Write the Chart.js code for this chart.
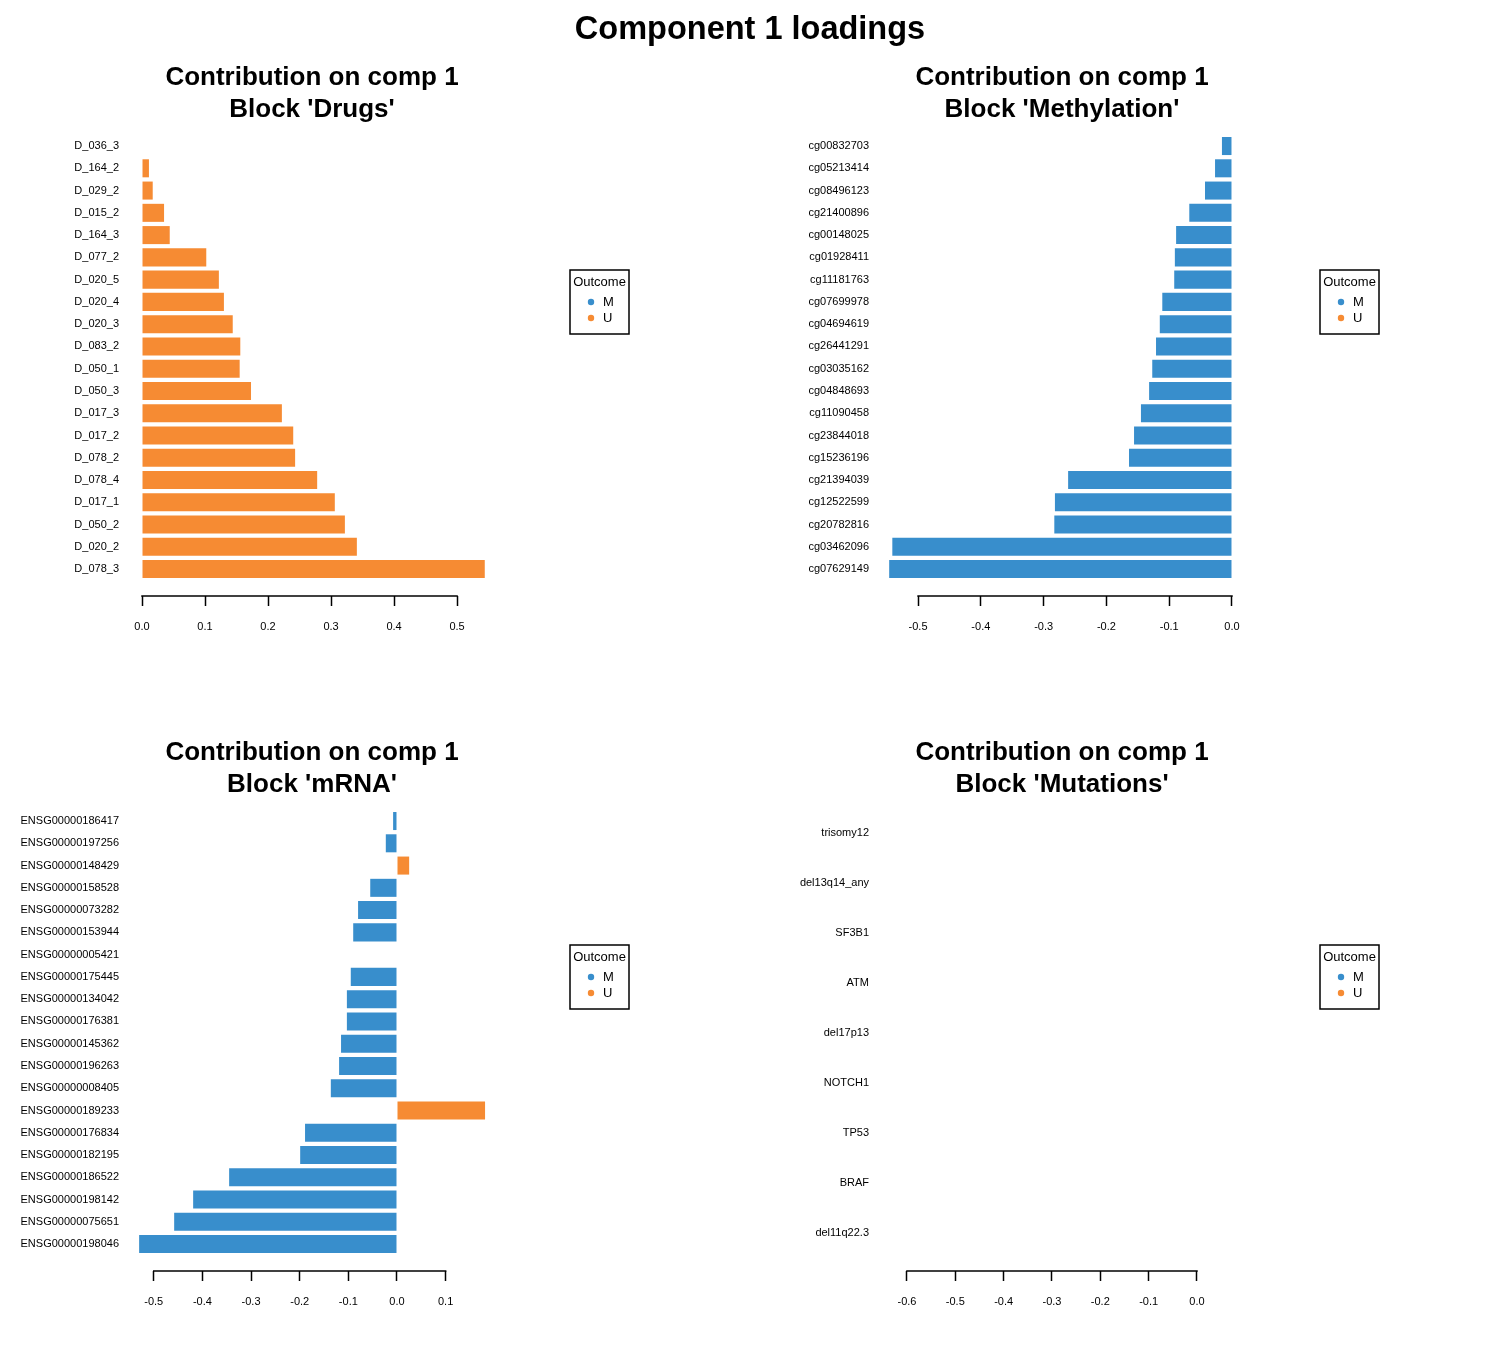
<!DOCTYPE html>
<html>
<head>
<meta charset="utf-8">
<script src="https://cdn.jsdelivr.net/npm/chart.js@4.4.1/dist/chart.umd.min.js"></script>
<style>
  body { margin: 0; background: #fff; }
  #page { position: relative; width: 1500px; height: 1350px; }
  #main-title { position: absolute; left: 0; top: 8px; width: 1500px; text-align: center;
    font: bold 32.5px "Liberation Sans", Arial, sans-serif; line-height: 40px; color: #000; }
  canvas { position: absolute; }
</style>
</head>
<body>
<div id="page">
  <canvas id="chart-drugs" width="750" height="675" style="left:0;top:0"></canvas>
  <canvas id="chart-meth" width="750" height="675" style="left:750px;top:0"></canvas>
  <canvas id="chart-mrna" width="750" height="675" style="left:0;top:675px"></canvas>
  <canvas id="chart-mut" width="750" height="675" style="left:750px;top:675px"></canvas>
  <div id="main-title">Component 1 loadings</div>
</div>
<script>
// colores de los grupos (M / U)
const colorM = '#388ECC'
const colorU = '#F68B33'
const legendTitle = 'Outcome'

// bloque Drugs
const drugNames = ['D_036_3', 'D_164_2', 'D_029_2', 'D_015_2', 'D_164_3', 'D_077_2', 'D_020_5', 'D_020_4', 'D_020_3', 'D_083_2',
    'D_050_1', 'D_050_3', 'D_017_3', 'D_017_2', 'D_078_2', 'D_078_4', 'D_017_1', 'D_050_2', 'D_020_2', 'D_078_3']
const drugValues = [0, 0.011, 0.017, 0.035, 0.044, 0.102, 0.122, 0.130, 0.144, 0.156,
    0.155, 0.173, 0.222, 0.240, 0.243, 0.278, 0.306, 0.322, 0.341, 0.544]
const drugOutcome = ['U', 'U', 'U', 'U', 'U', 'U', 'U', 'U', 'U', 'U', 'U', 'U', 'U', 'U', 'U', 'U', 'U', 'U', 'U', 'U']
const drugTicks = [0, 0.1, 0.2, 0.3, 0.4, 0.5]

// bloque Methylation
const methNames = ['cg00832703', 'cg05213414', 'cg08496123', 'cg21400896', 'cg00148025', 'cg01928411', 'cg11181763', 'cg07699978',
    'cg04694619', 'cg26441291', 'cg03035162', 'cg04848693', 'cg11090458', 'cg23844018', 'cg15236196', 'cg21394039',
    'cg12522599', 'cg20782816', 'cg03462096', 'cg07629149']
const methValues = [-0.016, -0.027, -0.043, -0.068, -0.089, -0.091, -0.092, -0.111, -0.115, -0.121,
    -0.127, -0.132, -0.145, -0.156, -0.164, -0.261, -0.282, -0.283, -0.541, -0.546]
const methOutcome = ['M', 'M', 'M', 'M', 'M', 'M', 'M', 'M', 'M', 'M', 'M', 'M', 'M', 'M', 'M', 'M', 'M', 'M', 'M', 'M']
const methTicks = [-0.5, -0.4, -0.3, -0.2, -0.1, 0]

// bloque mRNA
const mrnaNames = ['ENSG00000186417', 'ENSG00000197256', 'ENSG00000148429', 'ENSG00000158528', 'ENSG00000073282',
    'ENSG00000153944', 'ENSG00000005421', 'ENSG00000175445', 'ENSG00000134042', 'ENSG00000176381',
    'ENSG00000145362', 'ENSG00000196263', 'ENSG00000008405', 'ENSG00000189233', 'ENSG00000176834',
    'ENSG00000182195', 'ENSG00000186522', 'ENSG00000198142', 'ENSG00000075651', 'ENSG00000198046']
const mrnaValues = [-0.008, -0.023, 0.025, -0.055, -0.080, -0.090, 0, -0.095, -0.103, -0.103,
    -0.115, -0.119, -0.136, 0.181, -0.189, -0.199, -0.345, -0.419, -0.458, -0.530]
const mrnaOutcome = ['M', 'M', 'U', 'M', 'M', 'M', 'M', 'M', 'M', 'M', 'M', 'M', 'M', 'U', 'M', 'M', 'M', 'M', 'M', 'M']
const mrnaTicks = [-0.5, -0.4, -0.3, -0.2, -0.1, 0, 0.1]

// bloque Mutations (sin barras visibles)
const mutNames = ['trisomy12', 'del13q14_any', 'SF3B1', 'ATM', 'del17p13', 'NOTCH1', 'TP53', 'BRAF', 'del11q22.3']
const mutValues = [0, 0, 0, 0, 0, 0, 0, 0, 0]
const mutOutcome = ['M', 'M', 'M', 'M', 'M', 'M', 'M', 'M', 'M']
const mutTicks = [-0.6, -0.5, -0.4, -0.3, -0.2, -0.1, 0]

const fontFamily = '"Liberation Sans", Arial, sans-serif'
Chart.defaults.font.family = fontFamily
Chart.defaults.color = '#000'

// linea del eje x solo entre el primer y el ultimo tick (como en R)
const rAxisLine = {
    id: 'rAxisLine',
    afterDraw(chart) {
        const xs = chart.scales.x
        const t = xs.ticks
        const ctx = chart.ctx
        ctx.save()
        ctx.strokeStyle = '#000'
        ctx.lineWidth = 1.5
        ctx.beginPath()
        ctx.moveTo(xs.getPixelForValue(t[0].value) - 0.75, chart.chartArea.bottom)
        ctx.lineTo(xs.getPixelForValue(t[t.length - 1].value) + 0.75, chart.chartArea.bottom)
        ctx.stroke()
        ctx.restore()
    }
}

// leyenda con recuadro a la derecha del grafico (como legend() de R)
const outcomeLegend = {
    id: 'outcomeLegend',
    afterDraw(chart) {
        const ctx = chart.ctx
        ctx.save()
        ctx.strokeStyle = '#000'
        ctx.lineWidth = 1.5
        ctx.strokeRect(570, 270, 59, 64)
        ctx.font = '13px ' + fontFamily
        ctx.fillStyle = '#000'
        ctx.textAlign = 'center'
        ctx.textBaseline = 'middle'
        ctx.fillText(legendTitle, 599.5, 282)
        chart.data.datasets.forEach((ds, i) => {
            const y = 302 + i * 16
            ctx.fillStyle = ds.backgroundColor
            ctx.beginPath()
            ctx.arc(591, y, 3.2, 0, 2 * Math.PI)
            ctx.fill()
            ctx.fillStyle = '#000'
            ctx.textAlign = 'left'
            ctx.fillText(ds.label, 603, y + 0.5)
        })
        ctx.restore()
    }
}

function makeChart(canvasId, block, names, values, outcome, ticks, xMin, xMax, yMin, yMax) {
    const ctx = document.getElementById(canvasId).getContext('2d')
    const points = (grp) => values.map((v, i) => outcome[i] === grp ? {x: v, y: i} : null).filter(p => p !== null)
    return new Chart(ctx, {
        type: 'bar',
        data: {
            datasets: [{
                label: 'M',
                data: points('M'),
                backgroundColor: colorM,
                borderWidth: 0,
                grouped: false,
                barPercentage: 0.81,
                categoryPercentage: 1
            }, {
                label: 'U',
                data: points('U'),
                backgroundColor: colorU,
                borderWidth: 0,
                grouped: false,
                barPercentage: 0.81,
                categoryPercentage: 1
            }]
        },
        options: {
            indexAxis: 'y',
            responsive: false,
            animation: false,
            layout: { padding: { top: 62, right: 252, bottom: 0, left: 0 } },
            scales: {
                x: {
                    type: 'linear',
                    min: xMin,
                    max: xMax,
                    afterBuildTicks: s => { s.ticks = ticks.map(v => ({ value: v })) },
                    afterFit: s => { s.height = 79 },
                    grid: { display: true, drawOnChartArea: false, drawTicks: true, tickLength: 10, tickColor: '#000', tickWidth: 1.5 },
                    border: { display: false },
                    ticks: { callback: v => v.toFixed(1), font: { size: 11 }, color: '#000', padding: 14, autoSkip: false, maxRotation: 0 }
                },
                y: {
                    type: 'linear',
                    reverse: true,
                    offset: false,
                    min: yMin,
                    max: yMax,
                    afterBuildTicks: s => { s.ticks = names.map((n, i) => ({ value: i })) },
                    afterFit: s => { s.width = 126 },
                    grid: { display: false, drawTicks: false, offset: false },
                    border: { display: false },
                    ticks: { callback: v => names[v], font: { size: 11 }, color: '#000', padding: 7, autoSkip: false }
                }
            },
            plugins: {
                title: {
                    display: true,
                    text: ['Contribution on comp 1', "Block '" + block + "'"],
                    font: { size: 26, weight: 'bold', lineHeight: 32 / 26 },
                    color: '#000',
                    padding: 0,
                    fullSize: false
                },
                legend: { display: false },
                tooltip: { enabled: false }
            }
        },
        plugins: [rAxisLine, outcomeLegend]
    })
}

makeChart('chart-drugs', 'Drugs', drugNames, drugValues, drugOutcome, drugTicks, -0.0254, 0.565, -0.9, 20.21)
makeChart('chart-meth', 'Methylation', methNames, methValues, methOutcome, methTicks, -0.567, 0.0255, -0.9, 20.21)
makeChart('chart-mrna', 'mRNA', mrnaNames, mrnaValues, mrnaOutcome, mrnaTicks, -0.557, 0.2076, -0.9, 20.21)
makeChart('chart-mut', 'Mutations', mutNames, mutValues, mutOutcome, mutTicks, -0.664, 0.1055, -0.64, 8.76)
</script>
</body>
</html>
